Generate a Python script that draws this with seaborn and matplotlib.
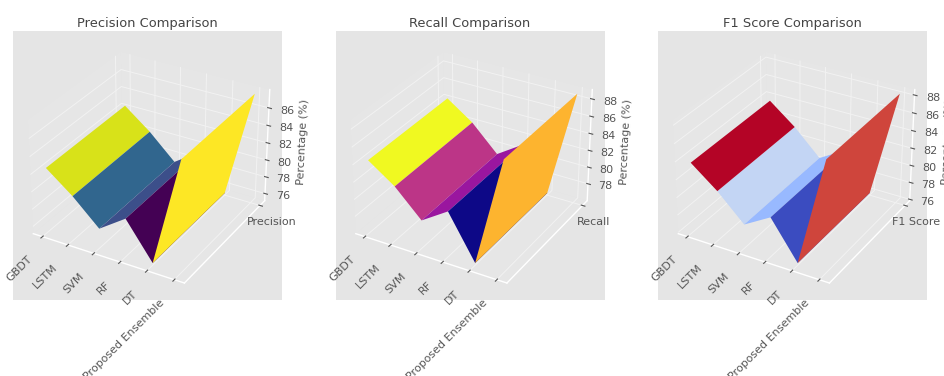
import numpy as np
import matplotlib
matplotlib.use("Agg")
import matplotlib.pyplot as plt
import seaborn as sns

models = ["GBDT", "LSTM", "SVM", "RF", "DT", "Proposed Ensemble"]
precision = [82.5, 80.2, 77.4, 79.5, 75.4, 87.8]
recall = [84.3, 82.2, 79.2, 81.2, 76.2, 88.8]
f1_score = [83.7, 81.4, 78.55, 80.3, 76.1, 88.35]
metric_names = ["Precision", "Recall", "F1 Score"]
titles = ["Precision Comparison", "Recall Comparison", "F1 Score Comparison"]
cmaps = ["viridis", "plasma", "coolwarm"]
z_ticks = [[76, 78, 80, 82, 84, 86], [78, 80, 82, 84, 86, 88], [76, 78, 80, 82, 84, 86, 88]]
lefts = [13, 335.5, 658]

plt.style.use("ggplot")
plt.rcParams["font.family"] = "DejaVu Sans"
fig = plt.figure(figsize=(9.44, 3.76), dpi=100)
W, H = 944, 376
x = np.arange(len(models))
y = np.array([0, 1])
X, Y = np.meshgrid(x, y)
for left, values, name, title, cmap, zt in zip(lefts, [precision, recall, f1_score], metric_names, titles, cmaps, z_ticks):
    ax = fig.add_axes([left / W, (H - 300) / H, 269 / W, 269 / H], projection="3d")
    Z = np.vstack([values, values])
    ax.plot_surface(X, Y, Z, cmap=sns.color_palette(cmap, as_cmap=True), edgecolor="none")
    ax.set_title(title, fontsize=9.4, color="#444444", pad=0, y=1.105)
    ax.set_xticks(x)
    ax.set_xticklabels(models, rotation=45, ha="right", fontsize=8, color="#555555")
    ax.set_yticks([1])
    ax.set_yticklabels([name], fontsize=8, color="#555555")
    ax.set_zticks(zt)
    ax.tick_params(axis="z", labelsize=8, labelcolor="#555555", pad=0)
    ax.tick_params(axis="x", pad=1)
    ax.tick_params(axis="y", pad=0)
    ax.set_zlabel("Percentage (%)", fontsize=8, color="#555555", labelpad=-5)
    for axis in (ax.xaxis, ax.yaxis, ax.zaxis):
        axis.set_pane_color((0.91, 0.91, 0.91, 0.35))
        axis._axinfo["grid"]["color"] = (0.95, 0.95, 0.95, 1)
        axis._axinfo["grid"]["linewidth"] = 0.7
fig.savefig("out.png", dpi=100)
